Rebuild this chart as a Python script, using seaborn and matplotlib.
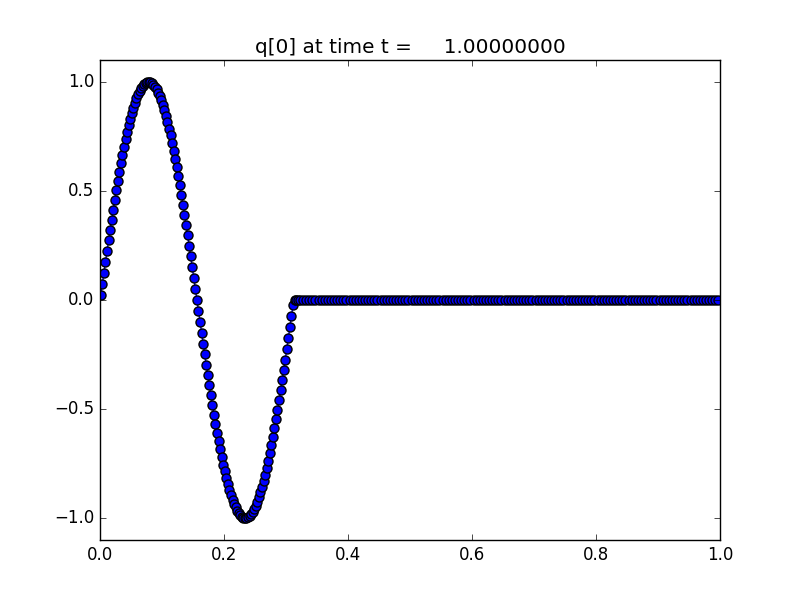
import numpy as np
import pandas as pd
import matplotlib
matplotlib.use("Agg")
import matplotlib.pyplot as plt
import seaborn as sns

# AMR cell-centre grids: fine level (dx=0.0025) on [0, 0.32], coarse level (dx=0.005) on [0.32, 1]
x_fine = np.linspace(0.00125, 0.31875, 128)
x_coarse = np.linspace(0.3225, 0.9975, 136)

q_fine = [
    0.025, 0.075, 0.125, 0.175, 0.224, 0.273, 0.321, 0.368, 0.414, 0.460,
    0.504, 0.546, 0.588, 0.628, 0.666, 0.703, 0.737, 0.771, 0.802, 0.830,
    0.857, 0.882, 0.905, 0.925, 0.943, 0.959, 0.972, 0.982, 0.991, 0.996,
    0.999, 1.000, 0.998, 0.994, 0.987, 0.977, 0.965, 0.951, 0.934, 0.915,
    0.894, 0.870, 0.844, 0.816, 0.786, 0.754, 0.720, 0.685, 0.647, 0.608,
    0.567, 0.525, 0.482, 0.437, 0.391, 0.345, 0.297, 0.249, 0.200, 0.150,
    0.100, 0.050,
    0.0, -0.050, -0.100, -0.150, -0.200, -0.249, -0.297, -0.345, -0.391, -0.437,
    -0.482, -0.525, -0.567, -0.608, -0.647, -0.685, -0.720, -0.754, -0.786, -0.816,
    -0.844, -0.870, -0.894, -0.915, -0.934, -0.951, -0.965, -0.977, -0.987, -0.994,
    -0.998, -1.000,
    -0.999, -0.996, -0.991, -0.982, -0.972, -0.959, -0.943, -0.925, -0.905, -0.882,
    -0.857, -0.830, -0.802, -0.771, -0.737, -0.703, -0.666, -0.628, -0.588, -0.546,
    -0.504, -0.460, -0.414, -0.368, -0.321, -0.273, -0.224, -0.175, -0.125, -0.075,
    -0.025,
    0.0, 0.0, 0.0,
]
# coarse level: flat zero
q_coarse = [0.0] * 136

title = "q[0] at time t =     1.00000000"

plt.style.use("classic")
fig = plt.figure(figsize=(8, 6), dpi=100)
ax = fig.add_axes([0.125, 0.1, 0.775, 0.8])
df = pd.DataFrame({"x": np.concatenate([x_fine, x_coarse]),
                   "q": q_fine + q_coarse})
sns.lineplot(data=df, x="x", y="q", ax=ax, color="b", marker="o",
             markersize=6.5, markeredgecolor="k", markeredgewidth=1.0,
             linewidth=1.0, estimator=None, sort=False)
ax.set_xlim(0, 1)
ax.set_ylim(-1.1, 1.1)
ax.set_xticks([0.0, 0.2, 0.4, 0.6, 0.8, 1.0])
ax.set_yticks([-1.0, -0.5, 0.0, 0.5, 1.0])
ax.set_xlabel("")
ax.set_ylabel("")
ax.set_title(title)
fig.savefig("out.png", dpi=100, facecolor="white")
